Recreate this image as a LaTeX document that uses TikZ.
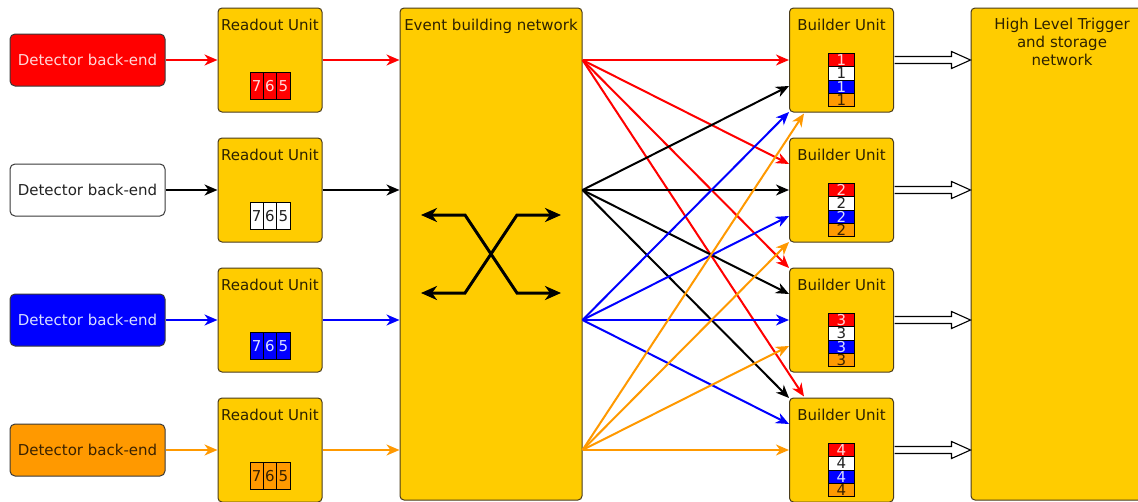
\documentclass[tikz,border=0pt]{standalone}
\usepackage{fontspec}
\setmainfont{DejaVu Sans}
\usetikzlibrary{arrows.meta,calc}

\definecolor{unitfill}{HTML}{FFCC00}
\definecolor{unitline}{HTML}{4A3C1C}
\definecolor{unittext}{HTML}{2E2200}
\definecolor{detline}{HTML}{3A3A3A}
\definecolor{dred}{HTML}{FF0000}
\definecolor{dblue}{HTML}{0000FF}
\definecolor{dorange}{HTML}{FF9900}
\definecolor{lightred}{HTML}{FFD8D8}
\definecolor{lightblue}{HTML}{D8E0FF}
\definecolor{darkbrown}{HTML}{3A2200}
\definecolor{nearblack}{HTML}{222222}

\begin{document}
\begin{tikzpicture}[x=1pt,y=-1pt,
  font=\fontsize{15}{18}\selectfont,
  unitbox/.style={draw=unitline, fill=unitfill, rounded corners=4pt, line width=1pt,
    inner sep=0pt, minimum width=104pt, minimum height=104pt},
  bigbox/.style={unitbox, minimum width=182pt, minimum height=492pt},
  detbox/.style={draw=detline, rounded corners=5pt, line width=1pt, inner sep=0pt,
    minimum width=155pt, minimum height=52pt},
  utext/.style={text=unittext, anchor=base, inner sep=0pt},
  ucell/.style={draw=black, line width=0.8pt, inner sep=0pt,
    minimum width=13.3pt, minimum height=27pt},
  bslot/.style={draw=black, line width=0.8pt, inner sep=0pt,
    minimum width=26pt, minimum height=13.3pt},
  flow/.style={line width=2pt, -{Stealth[length=13pt,width=11pt,inset=4pt]}},
  crossarrow/.style={line width=3pt, line join=miter,
    {Stealth[length=16pt,width=14pt,inset=5pt]}-{Stealth[length=16pt,width=14pt,inset=5pt]}},
  hollow/.style={draw=black, fill=white, line width=1.1pt, line join=miter}
]
\useasboundingbox (0,0) rectangle (1138,501);
\clip (0,0) rectangle (1138,501);
\fill[white] (0,0) rectangle (1138,501);

% central switching network and the trigger farm
\node[bigbox] (ebn) at (491,254) {};
\node[utext] (ebnlab) at ($(ebn.north)+(0,23)$) {Event building network};
\node[bigbox] (hlt) at (1062,254) {};
\node[utext] (hltlab1) at ($(hlt.north)+(0,22)$) {High Level Trigger};
\node[utext] (hltlab2) at ($(hlt.north)+(0,40)$) {and storage};
\node[utext] (hltlab3) at ($(hlt.north)+(0,58)$) {network};

% crossing symbol inside the network
\coordinate (xa) at ($(ebn.center)+(-70,-39)$);
\coordinate (xb) at ($(ebn.center)+(-26,-39)$);
\coordinate (xc) at ($(ebn.center)+(26,39)$);
\coordinate (xd) at ($(ebn.center)+(70,39)$);
\coordinate (ya) at ($(ebn.center)+(-70,39)$);
\coordinate (yb) at ($(ebn.center)+(-26,39)$);
\coordinate (yc) at ($(ebn.center)+(26,-39)$);
\coordinate (yd) at ($(ebn.center)+(70,-39)$);
\draw[crossarrow] (xa) -- (xb) -- (xc) -- (xd);
\draw[crossarrow] (ya) -- (yb) -- (yc) -- (yd);

% detector back-ends and readout units, one row per source
\foreach \i/\fc/\tc/\lc in {1/dred/lightred/dred, 2/white/nearblack/black,
                            3/dblue/lightblue/dblue, 4/dorange/darkbrown/dorange}{
  \node[detbox, fill=\fc, text=\tc] (det\i) at (87.5,{60+130*(\i-1)}) {Detector back-end};
  \node[unitbox] (ru\i) at (270,{60+130*(\i-1)}) {};
  \node[utext] (rulab\i) at ($(ru\i.north)+(0,23)$) {Readout Unit};
  \node[ucell, fill=\fc, text=\tc] (ru\i a) at ($(ru\i.center)+(-13.3,26)$) {7};
  \node[ucell, fill=\fc, text=\tc] (ru\i b) at ($(ru\i.center)+(0,26)$) {6};
  \node[ucell, fill=\fc, text=\tc] (ru\i c) at ($(ru\i.center)+(13.3,26)$) {5};
  \draw[flow, \lc] (det\i) -- (ru\i);
  \draw[flow, \lc] (ru\i.east) -- (ru\i.east -| ebn.west);
  \coordinate (src\i) at (ru\i.center -| ebn.east);
}

% builder units with their event fragments
\foreach \b in {1,...,4}{
  \node[unitbox] (bu\b) at (841.5,{60+130*(\b-1)}) {};
  \node[utext] (bulab\b) at ($(bu\b.north)+(0,23)$) {Builder Unit};
  \node[bslot, fill=dred, text=lightred] (bu\b r) at ($(bu\b.center)+(0,0)$) {\b};
  \node[bslot, fill=white, text=nearblack] (bu\b w) at ($(bu\b.center)+(0,13.3)$) {\b};
  \node[bslot, fill=dblue, text=lightblue] (bu\b u) at ($(bu\b.center)+(0,26.6)$) {\b};
  \node[bslot, fill=dorange, text=darkbrown] (bu\b o) at ($(bu\b.center)+(0,39.9)$) {\b};
  \draw[hollow] let \p1=(bu\b.east), \p2=(bu\b.east -| hlt.west) in
    (\x1+0.5pt,\y1+3.5pt) -- (\x2-19pt,\y1+3.5pt) -- (\x2-19pt,\y1+8.5pt) -- (\x2,\y1)
    -- (\x2-19pt,\y1-8.5pt) -- (\x2-19pt,\y1-3.5pt) -- (\x1+0.5pt,\y1-3.5pt);
}

% every source feeds every builder unit
\foreach \s/\lc in {1/dred, 2/black, 3/dblue, 4/dorange}{
  \foreach \b in {1,...,4}{
    \pgfmathtruncatemacro{\d}{\s-\b}
    \ifnum\d=-3
      \coordinate (t\s\b) at ($(bu\b.north west)+(15,-1)$);
    \else\ifnum\d=3
      \coordinate (t\s\b) at ($(bu\b.south west)+(15,1)$);
    \else
      \coordinate (t\s\b) at ($(bu\b.west)+(0,{26*\d})$);
    \fi\fi
    \draw[flow, \lc] (src\s) -- (t\s\b);
  }
}
\end{tikzpicture}
\end{document}
